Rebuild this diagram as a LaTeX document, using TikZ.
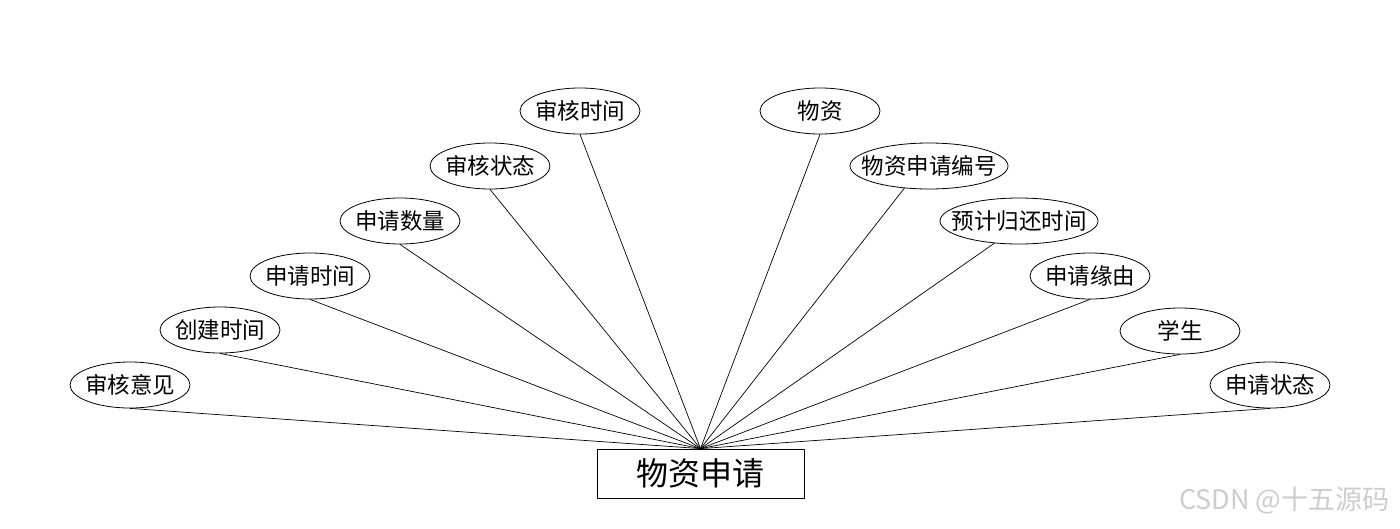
\documentclass[tikz,border=0pt]{standalone}
\usepackage{fontspec}
\setmainfont{Noto Sans CJK SC}
\usepackage{xcolor}
\usetikzlibrary{shapes.geometric}
\definecolor{mark}{HTML}{CDCDCD}
\tikzset{
  every picture/.style={line join=round, line cap=round},
  attr/.style={draw, ellipse, line width=0.8pt, inner ysep=0pt, minimum height=46pt,
    font=\fontsize{22.5}{22.5}\selectfont},
  entity/.style={draw, rectangle, line width=0.8pt, minimum width=207pt, minimum height=49pt,
    font=\fontsize{32}{32}\selectfont},
  link/.style={line width=0.7pt},
}
\begin{document}
\begin{tikzpicture}[x=1pt,y=-1pt]
\useasboundingbox (0,0) rectangle (1400,528);
\node[entity] (apply) at (700.5,473.5) {物资申请};
% attributes: name/x/y/width/xsep/anchor/text
\foreach \name/\x/\y/\w/\xs/\pin/\txt in {
  shyj/130/385/120/-4/south/审核意见, cjsj/220/330/120/-4/south/创建时间,
  sqsj/310/276/120/-4/south/申请时间, sqsl/400/221/120/-4/south/申请数量,
  shzt/490/166/120/-4/south/审核状态, shsj/580/111/120/-4/south/审核时间,
  wz/820/111/120/-4/south/物资, wzbh/929/166/158/-12/222/物资申请编号,
  ghsj/1019/221/158/-12/222/预计归还时间, sqyy/1090/276/120/-4/south/申请缘由,
  xs/1180/331/120/-4/south/学生, sqzt/1270/385/120/-4/south/申请状态}
{
  \node[attr, minimum width=\w pt, inner xsep=\xs pt] (\name) at (\x,\y) {\txt};
  \draw[link] (\name.\pin) -- (apply.north);
}
\node[anchor=east, text=mark, font=\fontsize{27}{27}\selectfont] (csdn) at (1393,500) {CSDN @十五源码};
\end{tikzpicture}
\end{document}
